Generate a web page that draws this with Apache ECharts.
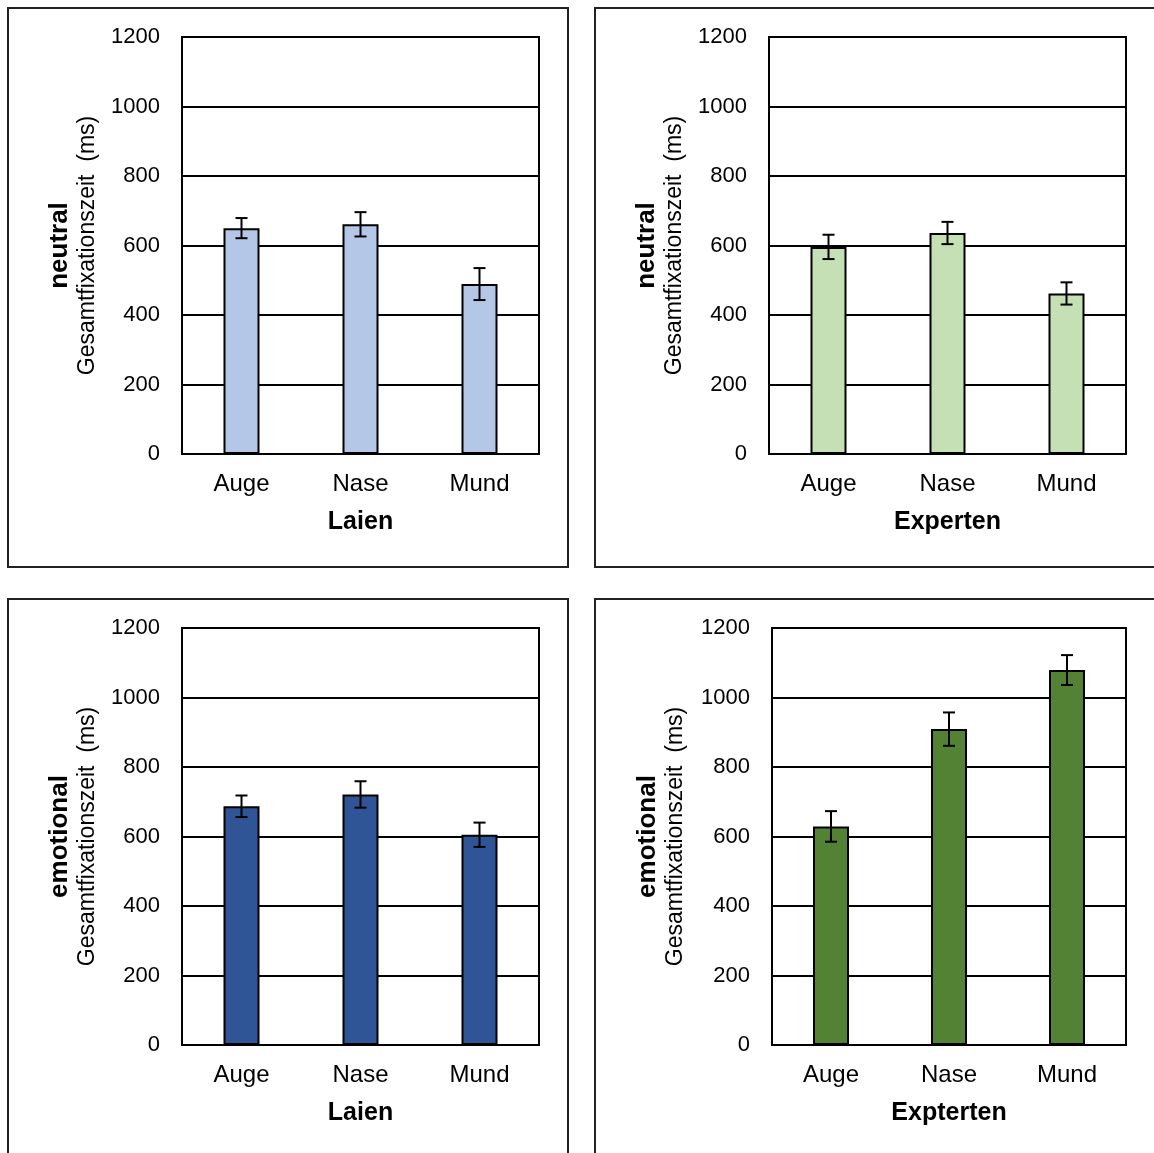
<!DOCTYPE html>
<html>
<head>
<meta charset="utf-8">
<script src="https://cdn.jsdelivr.net/npm/echarts@6/dist/echarts.min.js"></script>
<style>
  html, body { margin: 0; padding: 0; background: #fff; }
  #chart { width: 1154px; height: 1153px; }
</style>
</head>
<body>
<div id="chart"></div>
<script>
// data (ms)
var categories = ["Auge", "Nase", "Mund"];
var laienNeutral = [650, 661, 489];
var laienNeutralErr = [29, 35, 46];
var expertenNeutral = [596, 636, 462];
var expertenNeutralErr = [35, 32, 32];
var laienEmotional = [687, 721, 605];
var laienEmotionalErr = [31, 38, 35];
var expertenEmotional = [629, 909, 1079];
var expertenEmotionalErr = [44, 48, 43];

var font = "'Liberation Sans', Arial, sans-serif";

var panels = [
  { grid: { left: 182, top: 37, width: 357, height: 417 }, values: laienNeutral, errs: laienNeutralErr,
    color: "#B4C7E7", cond: "neutral", group: "Laien", gap: 80 },
  { grid: { left: 769, top: 37, width: 357, height: 417 }, values: expertenNeutral, errs: expertenNeutralErr,
    color: "#C5E0B4", cond: "neutral", group: "Experten", gap: 80 },
  { grid: { left: 182, top: 628, width: 357, height: 417 }, values: laienEmotional, errs: laienEmotionalErr,
    color: "#2F5597", cond: "emotional", group: "Laien", gap: 80 },
  { grid: { left: 772, top: 628, width: 354, height: 417 }, values: expertenEmotional, errs: expertenEmotionalErr,
    color: "#548235", cond: "emotional", group: "Expterten", gap: 82 }
];

var grids = [], xAxes = [], yAxes = [], series = [];

panels.forEach(function (p, i) {
  grids.push(Object.assign({ show: true, borderColor: "#000", borderWidth: 2, backgroundColor: "#fff" }, p.grid));
  xAxes.push({
    gridIndex: i,
    type: "category",
    data: categories,
    axisLine: { lineStyle: { color: "#000", width: 2 } },
    axisTick: { show: false },
    axisLabel: { color: "#000", fontSize: 24, fontFamily: font, margin: 18 },
    name: p.group,
    nameLocation: "middle",
    nameGap: 56,
    nameTextStyle: { color: "#000", fontSize: 25, fontWeight: "bold", fontFamily: font }
  });
  yAxes.push({
    gridIndex: i,
    type: "value",
    min: 0,
    max: 1200,
    interval: 200,
    axisLine: { show: true, lineStyle: { color: "#000", width: 2 } },
    axisTick: { show: false },
    axisLabel: {
      color: "#000", fontSize: 22, fontFamily: font, margin: 22, padding: [3, 0, 0, 0],
      formatter: function (v) { return String(v); }
    },
    splitLine: { lineStyle: { color: "#000", width: 2 } },
    name: "{b|" + p.cond + "}\n{n|Gesamtfixationszeit  (ms)}",
    nameLocation: "middle",
    nameRotate: 90,
    nameGap: p.gap,
    nameTextStyle: {
      rich: {
        b: { fontSize: 26, fontWeight: "bold", color: "#000", fontFamily: font, lineHeight: 28 },
        n: { fontSize: 23, color: "#000", fontFamily: font, lineHeight: 28 }
      }
    }
  });
  series.push({
    type: "bar",
    xAxisIndex: i,
    yAxisIndex: i,
    data: p.values,
    barWidth: 36,
    itemStyle: { color: p.color, borderColor: "#000", borderWidth: 2 },
    z: 2
  });
  series.push({
    type: "custom",
    xAxisIndex: i,
    yAxisIndex: i,
    data: p.values.map(function (v, k) { return [k, v, p.errs[k]]; }),
    z: 5,
    renderItem: function (params, api) {
      var x = api.value(0), v = api.value(1), e = api.value(2);
      var hi = api.coord([x, v + e]);
      var lo = api.coord([x, v - e]);
      var w = 6;
      var st = { stroke: "#000", lineWidth: 2 };
      return {
        type: "group",
        children: [
          { type: "line", shape: { x1: hi[0], y1: hi[1], x2: lo[0], y2: lo[1] }, style: st },
          { type: "line", shape: { x1: hi[0] - w, y1: hi[1], x2: hi[0] + w, y2: hi[1] }, style: st },
          { type: "line", shape: { x1: lo[0] - w, y1: lo[1], x2: lo[0] + w, y2: lo[1] }, style: st }
        ]
      };
    }
  });
});

var boxStyle = { fill: "none", stroke: "#222", lineWidth: 2 };
var chart = echarts.init(document.getElementById("chart"));
chart.setOption({
  backgroundColor: "#fff",
  animation: false,
  graphic: [
    { type: "rect", shape: { x: 8, y: 8, width: 560, height: 559 }, style: boxStyle, z: -10 },
    { type: "rect", shape: { x: 595, y: 8, width: 561, height: 559 }, style: boxStyle, z: -10 },
    { type: "rect", shape: { x: 8, y: 599, width: 560, height: 570 }, style: boxStyle, z: -10 },
    { type: "rect", shape: { x: 595, y: 599, width: 561, height: 570 }, style: boxStyle, z: -10 }
  ],
  grid: grids,
  xAxis: xAxes,
  yAxis: yAxes,
  series: series
});
</script>
</body>
</html>
